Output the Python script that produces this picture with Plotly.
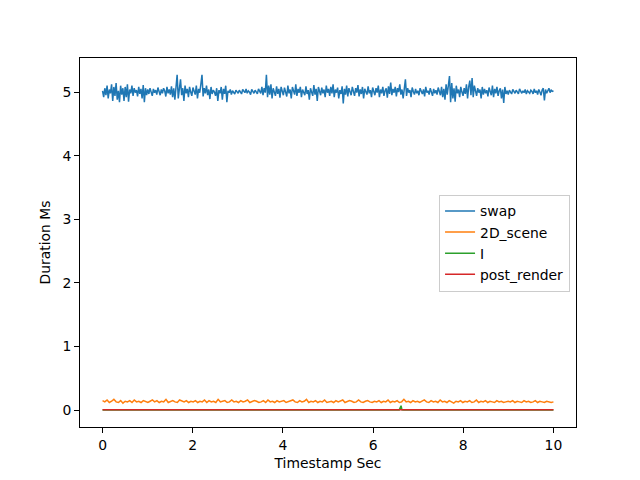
import numpy as np
import plotly.graph_objects as go

# ---- data ----
swap_ms = [
    5.02, 4.92, 5.06, 4.95, 5.10, 4.90, 5.04, 4.98, 5.12, 4.86, 5.08, 4.94, 5.14, 4.88, 5.02, 4.84, 5.10, 4.96, 5.06, 4.86,
    5.08, 4.92, 5.12, 4.85, 5.04, 4.98, 5.10, 4.94, 5.06, 4.99, 5.03, 4.93, 5.08, 4.97, 5.05, 4.90, 5.11, 4.84, 5.06, 4.95,
    5.04, 4.97, 5.06, 5.00, 4.94, 5.05, 4.99, 5.03, 4.96, 5.07, 5.01, 4.95, 5.04, 4.98, 5.06, 5.02, 4.93, 5.08, 4.98, 5.04,
    4.96, 5.09, 4.92, 5.06, 4.88, 5.12, 5.27, 4.90, 5.10, 5.20, 4.95, 5.06, 4.86, 5.10, 4.98, 5.05, 4.92, 5.08, 5.00, 4.94,
    5.07, 5.02, 4.96, 5.10, 4.90, 5.05, 4.99, 5.12, 5.27, 4.93, 5.06, 4.98, 5.10, 4.95, 5.04, 4.89, 5.08, 4.97, 5.03, 5.00,
    4.94, 5.06, 4.86, 5.03, 4.98, 5.08, 4.88, 5.05, 4.97, 5.10, 4.84, 5.02, 4.99, 5.04, 4.96, 5.02, 5.00, 4.97, 5.03, 5.01,
    4.98, 5.03, 5.00, 4.97, 5.04, 5.01, 4.99, 5.05, 4.98, 5.02, 5.00, 4.96, 5.04, 5.01, 4.98, 5.03, 5.00, 4.97, 5.05, 5.02,
    4.98, 5.08, 4.95, 5.06, 4.99, 5.27, 4.92, 5.10, 4.96, 5.12, 4.90, 5.06, 5.00, 4.94, 5.09, 4.97, 5.05, 4.91, 5.08, 5.00,
    4.95, 5.07, 5.01, 4.93, 5.10, 4.98, 5.04, 4.90, 5.08, 5.02, 4.96, 5.12, 4.94, 5.05, 4.99, 5.08, 4.92, 5.04, 5.00, 4.95,
    5.09, 4.97, 5.03, 4.88, 5.06, 5.00, 4.94, 5.11, 4.96, 5.05, 4.86, 5.08, 5.01, 4.95, 5.07, 4.98, 5.04, 4.92, 5.10, 4.99,
    5.05, 4.94, 5.08, 4.98, 5.12, 4.92, 5.04, 4.99, 5.07, 4.90, 5.03, 4.97, 5.09, 4.82, 5.05, 4.96, 5.10, 4.93, 5.06, 5.00,
    4.95, 5.08, 5.01, 4.94, 5.06, 4.99, 5.11, 4.93, 5.04, 4.97, 5.08, 4.90, 5.05, 5.00, 4.96, 5.09, 4.98, 5.03, 4.92, 5.07,
    5.01, 4.95, 5.06, 4.99, 5.10, 4.92, 5.04, 4.98, 5.08, 4.94, 5.02, 5.06, 4.91, 5.09, 4.97, 5.15, 4.95, 5.05, 4.99, 5.08,
    4.93, 5.06, 5.00, 5.12, 4.96, 5.04, 4.90, 5.08, 5.20, 4.94, 5.06, 4.99, 5.03, 4.92, 5.07, 5.01, 4.96, 5.05, 4.98, 5.02,
    4.95, 5.06, 5.00, 4.97, 5.04, 4.93, 5.08, 4.99, 5.02, 4.96, 5.06, 5.00, 4.94, 5.05, 4.98, 5.03, 4.96, 5.07, 5.00, 4.95,
    5.08, 4.92, 5.05, 4.88, 5.12, 4.96, 5.10, 5.25, 4.84, 5.14, 4.90, 5.06, 4.85, 5.10, 4.98, 5.04, 4.92, 5.08, 5.00, 4.94,
    5.06, 4.97, 5.12, 4.90, 5.08, 5.18, 4.95, 5.22, 4.92, 5.10, 5.02, 4.94, 5.06, 4.99, 5.04, 4.90, 5.08, 4.96, 5.05, 4.98,
    5.03, 4.93, 5.07, 5.00, 4.95, 5.10, 4.92, 5.05, 4.98, 5.08, 4.94, 5.02, 5.06, 4.90, 5.04, 4.83, 5.08, 4.97, 5.02, 4.96,
    5.03, 5.00, 4.97, 5.04, 5.01, 4.98, 5.03, 5.00, 4.97, 5.05, 5.01, 4.98, 5.02, 4.99, 5.04, 4.97, 5.02, 5.00, 4.98, 5.03,
    5.01, 4.97, 5.05, 4.99, 5.02, 4.96, 5.04, 5.00, 4.95, 5.03, 5.06, 4.87, 5.04, 4.98, 5.02, 5.06, 4.99, 5.03, 5.01, 5.02,
]

scene_2d_ms = [
    0.15, 0.13, 0.16, 0.12, 0.14, 0.17, 0.13, 0.12, 0.15, 0.11, 0.14, 0.13, 0.15, 0.12, 0.16, 0.13, 0.14, 0.12, 0.15, 0.13,
    0.12, 0.14, 0.16, 0.13, 0.15, 0.12, 0.14, 0.13, 0.17, 0.12, 0.14, 0.15, 0.13, 0.12, 0.16, 0.14, 0.13, 0.15, 0.12, 0.14,
    0.13, 0.15, 0.12, 0.14, 0.13, 0.16, 0.12, 0.15, 0.13, 0.14, 0.12, 0.17, 0.13, 0.14, 0.15, 0.12, 0.13, 0.16, 0.13, 0.14,
    0.12, 0.15, 0.13, 0.14, 0.16, 0.12, 0.13, 0.15, 0.14, 0.12, 0.13, 0.15, 0.12, 0.16, 0.13, 0.14, 0.12, 0.15, 0.13, 0.14,
    0.15, 0.12, 0.13, 0.14, 0.16, 0.13, 0.12, 0.15, 0.13, 0.14, 0.17, 0.12, 0.14, 0.13, 0.15, 0.12, 0.14, 0.13, 0.16, 0.12,
    0.13, 0.14, 0.12, 0.15, 0.13, 0.14, 0.16, 0.12, 0.13, 0.15, 0.14, 0.12, 0.13, 0.16, 0.13, 0.12, 0.14, 0.15, 0.13, 0.12,
    0.14, 0.13, 0.15, 0.12, 0.14, 0.13, 0.16, 0.12, 0.14, 0.13, 0.15, 0.12, 0.13, 0.17, 0.13, 0.14, 0.12, 0.15, 0.13, 0.14,
    0.12, 0.14, 0.16, 0.13, 0.12, 0.15, 0.13, 0.14, 0.12, 0.16, 0.13, 0.14, 0.12, 0.15, 0.13, 0.11, 0.14, 0.13, 0.15, 0.12,
    0.14, 0.13, 0.15, 0.12, 0.13, 0.16, 0.12, 0.14, 0.13, 0.15, 0.12, 0.14, 0.13, 0.12, 0.15, 0.13, 0.14, 0.12, 0.13, 0.14,
    0.13, 0.15, 0.12, 0.14, 0.13, 0.12, 0.15, 0.13, 0.14, 0.12, 0.13, 0.15, 0.12, 0.14, 0.13, 0.12, 0.14, 0.13, 0.12, 0.13,
]

i_x = [0.0, 3.0, 6.58, 6.62, 6.64, 6.68, 10.0]
i_ms = [0.002, 0.002, 0.004, 0.07, 0.004, 0.002, 0.002]

post_render_ms = [0.005, 0.006, 0.005, 0.005, 0.006, 0.005, 0.005, 0.006, 0.005, 0.005, 0.006,
                  0.005, 0.005, 0.006, 0.005, 0.005, 0.006, 0.005, 0.005, 0.006, 0.005]

series = [
    ("swap", np.linspace(0, 10, len(swap_ms)), swap_ms, "#1f77b4"),
    ("2D_scene", np.linspace(0, 10, len(scene_2d_ms)), scene_2d_ms, "#ff7f0e"),
    ("I", i_x, i_ms, "#2ca02c"),
    ("post_render", np.linspace(0, 10, len(post_render_ms)), post_render_ms, "#d62728"),
]

fig = go.Figure()
for name, x, y, c in series:
    fig.add_trace(go.Scatter(x=x, y=y, mode="lines", name=name,
                             line=dict(color=c, width=1.5)))

font = dict(family="DejaVu Sans", size=13.9, color="black")
axis_common = dict(showgrid=False, zeroline=False, showline=True, linecolor="black",
                   linewidth=1, mirror=True, ticks="outside", ticklen=4.9,
                   tickcolor="black", tickwidth=1, tickfont=font)

fig.update_layout(
    width=640, height=480,
    margin=dict(l=80, r=64, t=58, b=53),
    paper_bgcolor="white", plot_bgcolor="white",
    font=font,
    xaxis=dict(range=[-0.5, 10.5], tickvals=[0, 2, 4, 6, 8, 10],
               title=dict(text="Timestamp Sec", font=font, standoff=6), **axis_common),
    yaxis=dict(range=[-0.265, 5.535], tickvals=[0, 1, 2, 3, 4, 5],
               title=dict(text="Duration Ms", font=font, standoff=8), **axis_common),
    legend=dict(x=0.988, y=0.4986, xanchor="right", yanchor="middle",
                bgcolor="rgba(255,255,255,0.8)", bordercolor="#cccccc", borderwidth=1,
                font=font, tracegroupgap=0, itemwidth=30),
    showlegend=True,
)

fig.write_html("out.html")
